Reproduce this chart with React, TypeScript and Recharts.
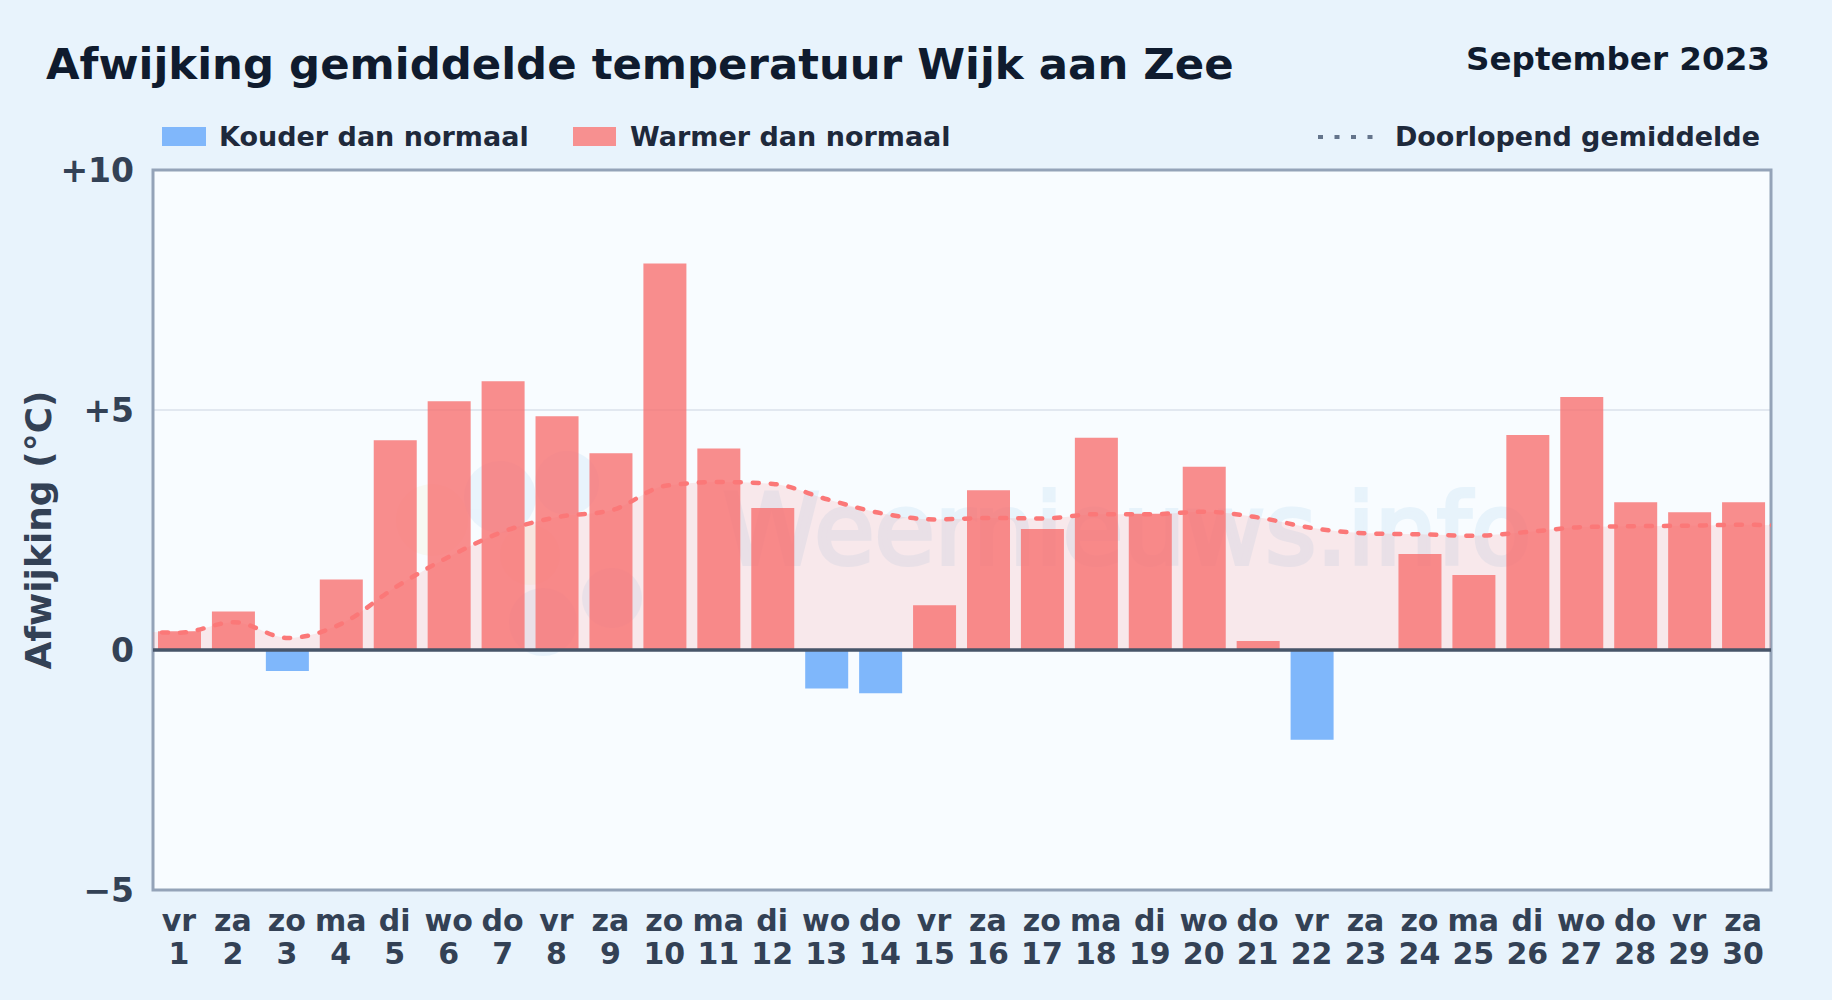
import {
  Area,
  Bar,
  CartesianGrid,
  ComposedChart,
  Line,
  ReferenceArea,
  ReferenceLine,
  XAxis,
  YAxis,
} from "recharts";

const FONT = "'DejaVu Sans', sans-serif";

const dayNames = [
  "vr", "za", "zo", "ma", "di", "wo", "do", "vr", "za", "zo",
  "ma", "di", "wo", "do", "vr", "za", "zo", "ma", "di", "wo",
  "do", "vr", "za", "zo", "ma", "di", "wo", "do", "vr", "za",
];
const days = [
  1, 2, 3, 4, 5, 6, 7, 8, 9, 10, 11, 12, 13, 14, 15,
  16, 17, 18, 19, 20, 21, 22, 23, 24, 25, 26, 27, 28, 29, 30,
];
const deviations = [
  0.39, 0.8, -0.44, 1.47, 4.37, 5.18, 5.6, 4.87, 4.1, 8.05,
  4.2, 2.96, -0.8, -0.9, 0.93, 3.33, 2.52, 4.42, 2.84, 3.82,
  0.19, -1.87, 0, 2.0, 1.56, 4.48, 5.27, 3.08, 2.87, 3.08,
];
const runningMean = [
  0.36, 0.58, 0.25, 0.55, 1.31, 1.95, 2.47, 2.77, 2.91, 3.42,
  3.5, 3.46, 3.14, 2.85, 2.72, 2.75, 2.74, 2.83, 2.83, 2.88,
  2.76, 2.54, 2.43, 2.41, 2.38, 2.46, 2.56, 2.58, 2.59, 2.61,
];
// the line runs on past the frame on both sides and is clipped there
const edgeDays = [0, 31];
const edgeMeans = [0.4, 2.58];
const yTicks = [-5, 0, 5, 10];

const rows = [
  { day: edgeDays[0], mean: edgeMeans[0] },
  ...days.map((day, i) => ({
    day,
    mean: runningMean[i],
    warm: deviations[i] > 0 ? deviations[i] : null,
    cold: deviations[i] < 0 ? deviations[i] : null,
  })),
  { day: edgeDays[1], mean: edgeMeans[1] },
];

function formatY(v: number) {
  if (v > 0) return `+${v}`;
  if (v < 0) return `\u2212${Math.abs(v)}`;
  return "0";
}

function DayTick({ x, y, payload }: any) {
  const i = days.indexOf(payload.value);
  return (
    <text x={x} textAnchor="middle" fontFamily={FONT} fontWeight={700} fontSize={30} fill="#334155">
      <tspan x={x - 1} y={y + 33}>{dayNames[i]}</tspan>
      <tspan x={x - 1} y={y + 66}>{payload.value}</tspan>
    </text>
  );
}

function Backdrop() {
  return (
    <svg width={1832} height={1000} style={{ position: "absolute", left: 0, top: 0 }}>
      <rect width={1832} height={1000} fill="#e8f3fc" />
      <rect x={153} y={170} width={1618} height={720} fill="#f8fcff" />
      <text x={46} y={79} fontFamily={FONT} fontWeight={700} fontSize={43.4} fill="#0f1b2e">
        Afwijking gemiddelde temperatuur Wijk aan Zee
      </text>
      <text x={1770} y={70} textAnchor="end" fontFamily={FONT} fontWeight={700} fontSize={32.6} fill="#0f1b2e">
        September 2023
      </text>
      <rect x={162} y={127} width={44} height={19} fill="#80b7fb" />
      <text x={219} y={146} fontFamily={FONT} fontWeight={700} fontSize={27} fill="#1e293b">
        Kouder dan normaal
      </text>
      <rect x={573} y={127} width={43} height={19} fill="#f79090" />
      <text x={630} y={146} fontFamily={FONT} fontWeight={700} fontSize={27} fill="#1e293b">
        Warmer dan normaal
      </text>
      <line x1={1318} x2={1374} y1={137} y2={137} stroke="#64748b" strokeWidth={4} strokeDasharray="5 11.5" />
      <text x={1760} y={146} textAnchor="end" fontFamily={FONT} fontWeight={700} fontSize={27} fill="#1e293b">
        Doorlopend gemiddelde
      </text>
      {/* watermark */}
      <g opacity={0.07} fill="#2a8fd8">
        <circle cx={500} cy={497} r={36} />
        <circle cx={567} cy={483} r={32} />
        <circle cx={543} cy={622} r={34} />
        <circle cx={612} cy={598} r={30} />
      </g>
      <circle cx={432} cy={520} r={36} fill="#eab308" opacity={0.05} />
      <circle cx={530} cy={555} r={30} fill="#eab308" opacity={0.05} />
      <text x={723} y={564} fontFamily={FONT} fontSize={98} fill="#2a8fd8" stroke="#2a8fd8" strokeWidth={4} opacity={0.08}>
        Weernieuws.info
      </text>
    </svg>
  );
}

export default function App() {
  return (
    <div style={{ position: "absolute", left: 0, top: 0, width: 1832, height: 1000, overflow: "hidden" }}>
      <Backdrop />
      <div style={{ position: "absolute", left: 0, top: 0 }}>
        <ComposedChart
          width={1832}
          height={1000}
          data={rows}
          margin={{ top: 170, right: 61, left: 0, bottom: 0 }}
        >
          <CartesianGrid vertical={false} stroke="#e2e8f0" strokeWidth={2} />
          <XAxis
            dataKey="day"
            type="number"
            domain={[0.5, 30.5]}
            allowDataOverflow
            ticks={days}
            interval={0}
            height={110}
            axisLine={false}
            tickLine={false}
            tick={<DayTick />}
          />
          <YAxis
            width={153}
            type="number"
            domain={[-5, 10]}
            ticks={yTicks}
            interval={0}
            axisLine={false}
            tickLine={false}
            tickFormatter={formatY}
            tickMargin={13}
            tick={{ fill: "#334155", fontSize: 33, fontWeight: 700, fontFamily: FONT }}
            label={{
              value: "Afwijking (\u00b0C)",
              angle: -90,
              position: "insideLeft",
              offset: 38,
              style: { fill: "#334155", fontSize: 36, fontWeight: 700, fontFamily: FONT, textAnchor: "middle" },
            }}
          />
          <ReferenceArea x1={0.5} x2={30.5} y1={-5} y2={10} fill="none" stroke="#94a3b8" strokeWidth={3} />
          <Area
            dataKey="mean"
            type="monotone"
            stroke="none"
            fill="#f87171"
            fillOpacity={0.14}
            isAnimationActive={false}
          />
          <Bar dataKey="warm" stackId="dev" barSize={43} fill="#f87171" fillOpacity={0.8} isAnimationActive={false} />
          <Bar dataKey="cold" stackId="dev" barSize={43} fill="#60a5fa" fillOpacity={0.8} isAnimationActive={false} />
          <ReferenceLine y={0} stroke="#475569" strokeWidth={3.5} />
          <Line
            dataKey="mean"
            type="monotone"
            stroke="#fb7878"
            strokeWidth={4.5}
            strokeDasharray="6 12"
            strokeLinecap="round"
            dot={false}
            activeDot={false}
            isAnimationActive={false}
          />
        </ComposedChart>
      </div>
    </div>
  );
}
